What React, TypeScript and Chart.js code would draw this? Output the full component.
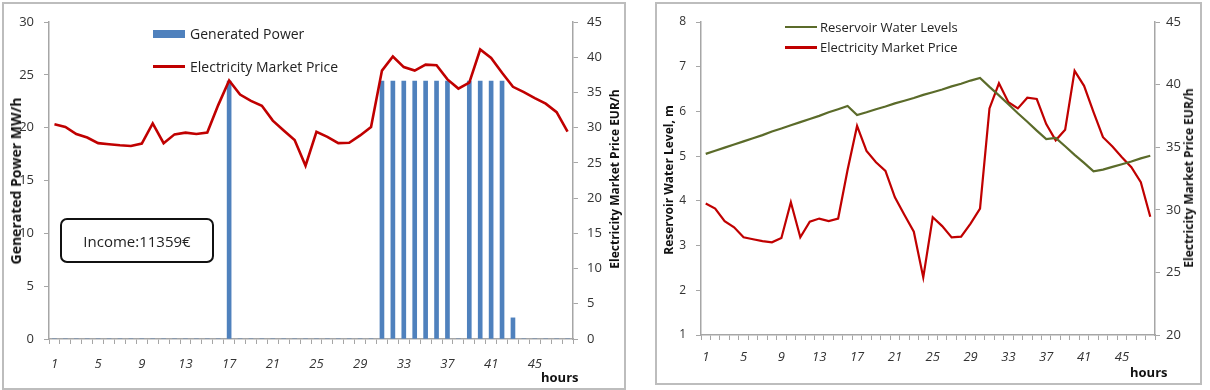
import React, { useEffect, useRef } from 'react';
import { Chart, registerables } from 'chart.js';

Chart.register(...registerables);

const hours = [
  '1', '2', '3', '4', '5', '6', '7', '8', '9', '10', '11', '12',
  '13', '14', '15', '16', '17', '18', '19', '20', '21', '22', '23', '24',
  '25', '26', '27', '28', '29', '30', '31', '32', '33', '34', '35', '36',
  '37', '38', '39', '40', '41', '42', '43', '44', '45', '46', '47', '48',
];

const generatedPower = [
  0, 0, 0, 0, 0, 0, 0, 0, 0, 0, 0, 0, 0, 0, 0, 0,
  24.4,
  0, 0, 0, 0, 0, 0, 0, 0, 0, 0, 0, 0, 0,
  24.4, 24.4, 24.4, 24.4, 24.4, 24.4, 24.4,
  0,
  24.4, 24.4, 24.4, 24.4,
  2,
  0, 0, 0, 0, 0,
];

const marketPrice = [
  30.5, 30.1, 29.1, 28.6, 27.8, 27.65, 27.5, 27.4, 27.75, 30.6, 27.8, 29.05,
  29.3, 29.1, 29.3, 33.2, 36.7, 34.7, 33.8, 33.1, 31.0, 29.6, 28.25, 24.6,
  29.4, 28.7, 27.8, 27.85, 28.9, 30.1, 38.1, 40.1, 38.6, 38.1, 38.95, 38.85,
  36.85, 35.55, 36.4, 41.1, 39.9, 37.8, 35.8, 35.05, 34.2, 33.4, 32.2, 29.45,
];

const waterLevel = [
  5.05, 5.12, 5.19, 5.26, 5.33, 5.40, 5.47, 5.55, 5.62, 5.69, 5.76, 5.83,
  5.90, 5.98, 6.05, 6.12, 5.92, 5.98, 6.05, 6.11, 6.18, 6.24, 6.30, 6.37,
  6.43, 6.49, 6.56, 6.62, 6.69, 6.75, 6.55, 6.36, 6.16, 5.96, 5.77, 5.57,
  5.38, 5.41, 5.22, 5.03, 4.85, 4.66, 4.70, 4.76, 4.82, 4.88, 4.95, 5.01,
];

const FONT = "'Open Sans', 'DejaVu Sans', sans-serif";
const AXIS_COLOR = '#a6a6a6';
const TICK_COLOR = '#333333';
const BLUE = '#4F81BD';
const RED = '#C00000';
const GREEN = '#5B6B2A';

function xAxis(height: number, fontSize: number, padding: number) {
  return {
    type: 'category' as const,
    offset: true,
    afterFit: (s: any) => { s.height = height; },
    grid: {
      display: true,
      offset: true,
      drawOnChartArea: false,
      drawTicks: true,
      tickLength: 5,
      color: AXIS_COLOR,
      lineWidth: 1,
    },
    border: { display: true, color: AXIS_COLOR, width: 1.5 },
    ticks: {
      autoSkip: false,
      maxRotation: 0,
      minRotation: 0,
      padding,
      color: TICK_COLOR,
      font: { family: FONT, size: fontSize, style: 'italic' as const },
      callback: (_v: any, i: number) => (i % 4 === 0 ? hours[i] : ''),
    },
  };
}

function yAxis(position: 'left' | 'right', width: number, min: number, max: number, step: number, fontSize: number, padding: number) {
  return {
    type: 'linear' as const,
    position,
    min,
    max,
    afterFit: (s: any) => { s.width = width; },
    grid: {
      display: true,
      drawOnChartArea: false,
      drawTicks: true,
      tickLength: 5,
      color: AXIS_COLOR,
    },
    border: { display: true, color: AXIS_COLOR, width: 1.5 },
    ticks: {
      stepSize: step,
      padding,
      color: TICK_COLOR,
      font: { family: FONT, size: fontSize },
    },
  };
}

function LeftChart() {
  const ref = useRef<HTMLCanvasElement>(null);
  useEffect(() => {
    if (!ref.current) return;
    const chart = new Chart(ref.current, {
      type: 'bar',
      data: {
        labels: hours,
        datasets: [
          {
            type: 'line' as const,
            label: 'Electricity Market Price',
            data: marketPrice,
            yAxisID: 'y1',
            borderColor: RED,
            backgroundColor: RED,
            borderWidth: 2.6,
            pointRadius: 0,
            tension: 0,
            order: 0,
          },
          {
            type: 'bar' as const,
            label: 'Generated Power',
            data: generatedPower,
            yAxisID: 'y',
            backgroundColor: BLUE,
            borderWidth: 0,
            barThickness: 4,
            order: 1,
          },
        ],
      },
      options: {
        animation: false,
        responsive: false,
        maintainAspectRatio: false,
        layout: { padding: { top: 22, left: 0, right: 0, bottom: 0 } },
        plugins: { legend: { display: false }, tooltip: { enabled: false }, title: { display: false } },
        scales: {
          x: xAxis(51, 13, 12),
          y: yAxis('left', 49, 0, 30, 5, 13, 10),
          y1: yAxis('right', 55, 0, 45, 5, 13, 9),
        },
      } as any,
    });
    return () => chart.destroy();
  }, []);
  return (
    <canvas
      ref={ref}
      width={628}
      height={390}
      style={{ position: 'absolute', left: 0, top: 0, width: 628, height: 390 }}
    />
  );
}

function RightChart() {
  const ref = useRef<HTMLCanvasElement>(null);
  useEffect(() => {
    if (!ref.current) return;
    const chart = new Chart(ref.current, {
      type: 'line',
      data: {
        labels: hours,
        datasets: [
          {
            label: 'Reservoir Water Levels',
            data: waterLevel,
            yAxisID: 'y',
            borderColor: GREEN,
            backgroundColor: GREEN,
            borderWidth: 2.2,
            pointRadius: 0,
            tension: 0,
          },
          {
            label: 'Electricity Market Price',
            data: marketPrice,
            yAxisID: 'y1',
            borderColor: RED,
            backgroundColor: RED,
            borderWidth: 2.2,
            pointRadius: 0,
            tension: 0,
          },
        ],
      },
      options: {
        animation: false,
        responsive: false,
        maintainAspectRatio: false,
        layout: { padding: { top: 22, left: 0, right: 0, bottom: 0 } },
        plugins: { legend: { display: false }, tooltip: { enabled: false }, title: { display: false } },
        scales: {
          x: xAxis(55, 13, 9),
          y: yAxis('left', 61, 1, 8, 1, 12, 10),
          y1: yAxis('right', 55, 20, 45, 5, 13, 6),
        },
      } as any,
    });
    return () => chart.destroy();
  }, []);
  return (
    <canvas
      ref={ref}
      width={570}
      height={390}
      style={{ position: 'absolute', left: 640, top: 0, width: 570, height: 390 }}
    />
  );
}

const rotTitle = (text: string, cx: number, cy: number, size: number): React.ReactElement => (
  <div
    style={{
      position: 'absolute',
      left: cx,
      top: cy,
      transform: 'translate(-50%, -50%) rotate(-90deg)',
      whiteSpace: 'nowrap',
      fontFamily: FONT,
      fontWeight: 700,
      fontSize: size,
      color: '#111',
      lineHeight: 1,
    }}
  >
    {text}
  </div>
);

const textStyle = (left: number, top: number, size: number, extra: React.CSSProperties = {}): React.CSSProperties => ({
  position: 'absolute',
  left,
  top,
  transform: 'translateY(-50%)',
  whiteSpace: 'nowrap',
  fontFamily: FONT,
  fontSize: size,
  color: '#222',
  lineHeight: 1,
  ...extra,
});

export default function App() {
  return (
    <div style={{ position: 'absolute', left: 0, top: 0, width: 1210, height: 390, background: '#fff', overflow: 'hidden' }}>
      <div style={{ position: 'absolute', left: 2, top: 2, width: 620, height: 384, border: '2px solid #bdbdbd' }} />
      <div style={{ position: 'absolute', left: 655, top: 2, width: 543, height: 379, border: '2px solid #bdbdbd' }} />
      <LeftChart />
      <RightChart />

      {/* left chart legend */}
      <div style={{ position: 'absolute', left: 153, top: 30, width: 32, height: 8, background: BLUE }} />
      <div style={textStyle(190, 34, 14)}>Generated Power</div>
      <div style={{ position: 'absolute', left: 153, top: 65, width: 32, height: 3, background: RED }} />
      <div style={textStyle(190, 67, 14)}>Electricity Market Price</div>

      {/* income box */}
      <div
        style={{
          position: 'absolute',
          left: 60,
          top: 218,
          width: 150,
          height: 41,
          border: '2px solid #111',
          borderRadius: 7,
          display: 'flex',
          alignItems: 'center',
          justifyContent: 'center',
          fontFamily: FONT,
          fontSize: 15,
          color: '#222',
        }}
      >
        Income:11359€
      </div>

      {rotTitle('Generated Power MW/h', 16, 181, 14)}
      {rotTitle('Electricity Market Price EUR/h', 615, 179, 12)}
      <div style={textStyle(541, 377, 13, { fontWeight: 700, color: '#111' })}>hours</div>

      {/* right chart legend */}
      <div style={{ position: 'absolute', left: 785, top: 26, width: 32, height: 2, background: GREEN }} />
      <div style={textStyle(820, 27, 13)}>Reservoir Water Levels</div>
      <div style={{ position: 'absolute', left: 785, top: 46, width: 32, height: 3, background: RED }} />
      <div style={textStyle(820, 47, 13)}>Electricity Market Price</div>

      {rotTitle('Reservoir Water Level, m', 669, 180, 12)}
      {rotTitle('Electricity Market Price EUR/h', 1189, 178, 12)}
      <div style={textStyle(1130, 372, 13, { fontWeight: 700, color: '#111' })}>hours</div>
    </div>
  );
}
